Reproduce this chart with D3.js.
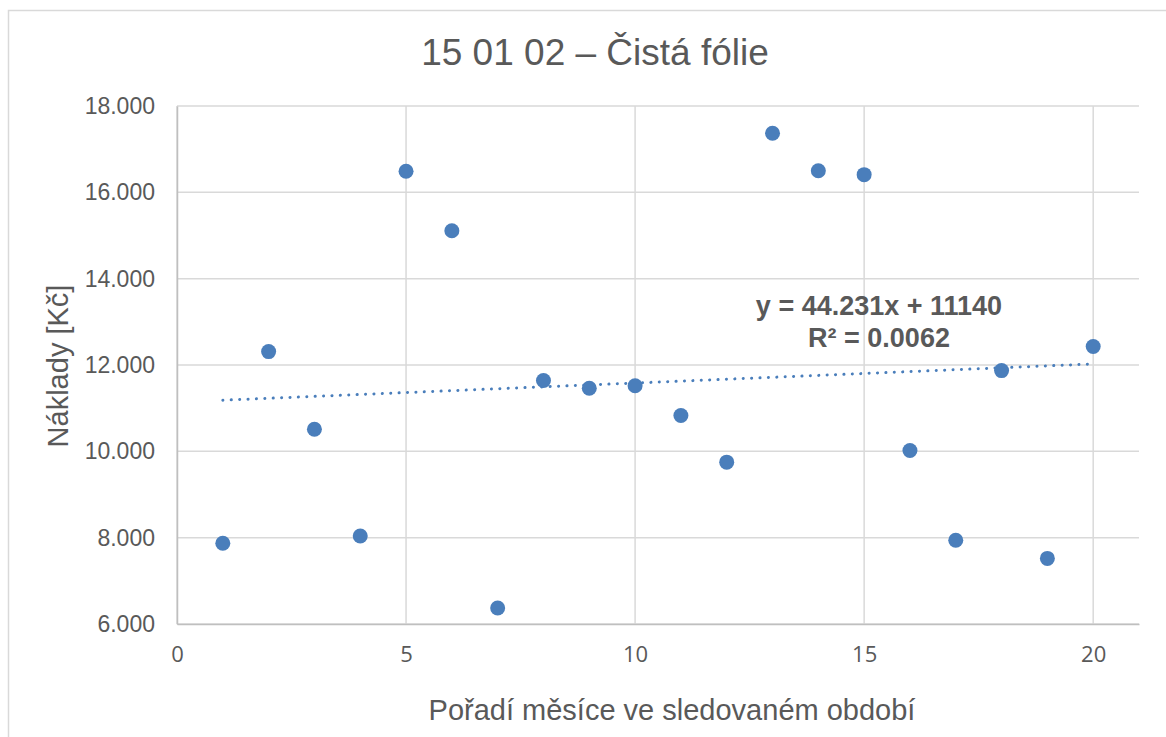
<!DOCTYPE html>
<meta charset="utf-8">
<script src="https://d3js.org/d3.v7.min.js"></script>
<style>
  body { margin: 0; background: #fff; }
  text { fill: #595959; font-family: "Liberation Sans", Arial, sans-serif; }
</style>
<body>
<div id="chart"></div>
<script>
    // data
    var months = [1, 2, 3, 4, 5, 6, 7, 8, 9, 10, 11, 12, 13, 14, 15, 16, 17, 18, 19, 20];
    var costs = [7870, 12310, 10510, 8040, 16490, 15110, 6370, 11640, 11460, 11520,
                 10830, 9750, 17370, 16500, 16410, 10020, 7940, 11870, 7520, 12430];
    var xTicks = [0, 5, 10, 15, 20];
    var yTicks = [6000, 8000, 10000, 12000, 14000, 16000, 18000];
    var trendSlope = 44.231, trendIntercept = 11140;

    var width = 1166, height = 737;
    var margin = { left: 177, right: 28, top: 106, bottom: 113 };

    var svg = d3.select("#chart").append("svg")
        .attr("width", width)
        .attr("height", height)

    // chart frame
    svg.append("rect")
        .attr("x", 8.5).attr("y", 10.5)
        .attr("width", width + 20).attr("height", height + 20)
        .attr("fill", "none").attr("stroke", "#d9d9d9").attr("stroke-width", 1.5)

    var x = d3.scaleLinear().domain([0, 21]).range([margin.left, width - margin.right + 1])
    var y = d3.scaleLinear().domain([6000, 18000]).range([height - margin.bottom, margin.top])

    // gridlines
    svg.append("g").selectAll("line").data(yTicks).enter().append("line")
        .attr("x1", x(0)).attr("x2", x(21))
        .attr("y1", function (d) { return y(d) }).attr("y2", function (d) { return y(d) })
        .attr("stroke", "#d9d9d9").attr("stroke-width", 1.5)
    svg.append("g").selectAll("line").data(xTicks).enter().append("line")
        .attr("y1", y(6000)).attr("y2", y(18000))
        .attr("x1", function (d) { return x(d) }).attr("x2", function (d) { return x(d) })
        .attr("stroke", "#d9d9d9").attr("stroke-width", 1.5)

    // axes (no tick marks, labels only)
    var yAxis = svg.append("g")
        .attr("transform", "translate(" + x(0) + ",0)")
        .call(d3.axisLeft(y).tickValues(yTicks).tickSize(0).tickPadding(22)
            .tickFormat(function (d) { return d3.format(".3f")(d / 1000) }))
    yAxis.select(".domain").attr("stroke", "#bfbfbf").attr("stroke-width", 1.5)
    yAxis.selectAll("text").style("font-size", "23px").style("font-family", "Liberation Sans, Arial").attr("fill", "#595959")

    var xAxis = svg.append("g")
        .attr("transform", "translate(0," + y(6000) + ")")
        .call(d3.axisBottom(x).tickValues(xTicks).tickSize(0).tickPadding(22))
    xAxis.select(".domain").attr("stroke", "#bfbfbf").attr("stroke-width", 1.5)
    xAxis.selectAll("text").style("font-size", "22px").style("font-family", "Open Sans, sans-serif").attr("fill", "#595959")

    // trendline
    var trendData = [months[0], months[months.length - 1]];
    svg.append("line")
        .attr("x1", x(trendData[0])).attr("y1", y(trendSlope * trendData[0] + trendIntercept))
        .attr("x2", x(trendData[1])).attr("y2", y(trendSlope * trendData[1] + trendIntercept))
        .attr("stroke", "#4a7ebb").attr("stroke-width", 3)
        .attr("stroke-dasharray", "0.1,8.3").attr("stroke-linecap", "round")

    // points
    svg.append("g").selectAll("circle").data(months).enter().append("circle")
        .attr("cx", function (d) { return x(d) })
        .attr("cy", function (d, i) { return y(costs[i]) })
        .attr("r", 7.5)
        .attr("fill", "#4a7ebb")

    // equation label
    var eq = svg.append("text")
        .attr("text-anchor", "middle")
        .style("font-size", "27px").style("font-weight", "bold")
    eq.append("tspan").attr("x", 879).attr("y", 315).text("y = 44.231x + 11140")
    eq.append("tspan").attr("x", 879).attr("y", 347).text("R² = 0.0062")

    // titles
    svg.append("text")
        .attr("x", 595).attr("y", 65)
        .attr("text-anchor", "middle")
        .style("font-size", "37px")
        .text("15 01 02 – Čistá fólie")

    svg.append("text")
        .attr("x", 672).attr("y", 720)
        .attr("text-anchor", "middle")
        .style("font-size", "29px")
        .text("Pořadí měsíce ve sledovaném období")

    svg.append("text")
        .attr("transform", "translate(68," + 366 + ") rotate(-90)")
        .attr("text-anchor", "middle")
        .style("font-size", "29px")
        .text("Náklady [Kč]")
</script>
</body>
